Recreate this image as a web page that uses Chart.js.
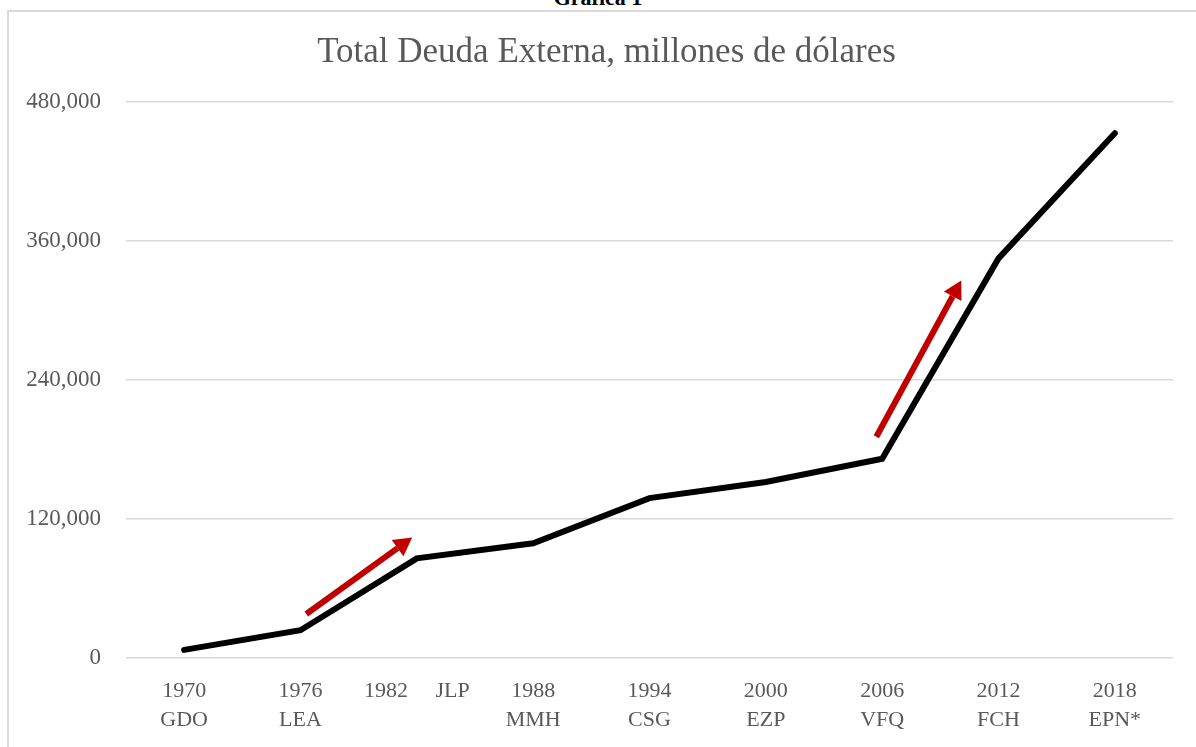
<!DOCTYPE html>
<html>
<head>
<meta charset="utf-8">
<script src="https://cdn.jsdelivr.net/npm/chart.js@4/dist/chart.umd.min.js"></script>
<style>
    html, body { margin: 0; padding: 0; background: #fff; overflow: hidden; width: 1196px; height: 747px; }
    #caption { position: absolute; left: 0; width: 1196px; top: -13px; text-align: center;
        font: bold 22px "Liberation Serif", serif; line-height: 22px; color: #000; }
    #frame { position: absolute; left: 7px; top: 10px; width: 1210px; height: 760px;
        border-left: 2px solid #d9d9d9; border-top: 2px solid #d9d9d9; }
    #frame canvas { position: absolute; left: 0; top: 0; }
</style>
</head>
<body>
<div id="caption">Gráfica 1</div>
<div id="frame"><canvas id="deuda" width="1195" height="735"></canvas></div>
<script>
// años y presidentes
const years = ['1970', '1976', '1982     JLP', '1988', '1994', '2000', '2006', '2012', '2018'];
const presidents = ['GDO', 'LEA', '', 'MMH', 'CSG', 'EZP', 'VFQ', 'FCH', 'EPN*'];
// deuda externa total, millones de dólares
const debt = [7000, 24000, 86000, 99000, 138000, 152000, 172000, 345000, 453000];
const yTicks = [0, 120000, 240000, 360000, 480000];

// red arrows, in data units: [category index, value]
const arrows = [
    { from: [1.05, 38000], to: [1.96, 104000] },
    { from: [5.95, 191000], to: [6.68, 326000] }
];

const labels = years.map((y, i) => presidents[i] ? [y, presidents[i]] : y);
const serif = '"Liberation Serif", "Times New Roman", serif';

const arrowPlugin = {
    id: 'arrows',
    afterDatasetsDraw(chart) {
        const { ctx, scales: { x, y } } = chart;
        ctx.save();
        ctx.strokeStyle = '#c00000';
        ctx.fillStyle = '#c00000';
        ctx.lineWidth = 6;
        arrows.forEach(a => {
            const x0 = x.getPixelForValue(a.from[0]), y0 = y.getPixelForValue(a.from[1]);
            const x1 = x.getPixelForValue(a.to[0]), y1 = y.getPixelForValue(a.to[1]);
            const ang = Math.atan2(y1 - y0, x1 - x0);
            const head = 18, half = 10;
            const bx = x1 - head * Math.cos(ang), by = y1 - head * Math.sin(ang);
            ctx.beginPath();
            ctx.moveTo(x0, y0);
            ctx.lineTo(bx, by);
            ctx.stroke();
            ctx.beginPath();
            ctx.moveTo(x1, y1);
            ctx.lineTo(bx + half * Math.sin(ang), by - half * Math.cos(ang));
            ctx.lineTo(bx - half * Math.sin(ang), by + half * Math.cos(ang));
            ctx.closePath();
            ctx.fill();
        });
        ctx.restore();
    }
};

new Chart(document.getElementById('deuda'), {
    type: 'line',
    data: {
        labels: labels,
        datasets: [{
            data: debt,
            borderColor: '#000',
            borderWidth: 6,
            borderCapStyle: 'round',
            pointRadius: 0,
            tension: 0,
            fill: false
        }]
    },
    options: {
        responsive: false,
        animation: false,
        layout: { padding: 0 },
        plugins: {
            legend: { display: false },
            tooltip: { enabled: false },
            title: {
                display: true,
                text: 'Total Deuda Externa, millones de dólares',
                color: '#595959',
                font: { family: serif, size: 35, weight: 'normal' },
                padding: { top: 20, bottom: 28 }
            }
        },
        scales: {
            x: {
                offset: true,
                grid: { display: false },
                border: { display: false },
                ticks: {
                    color: '#595959',
                    font: { family: serif, size: 22, lineHeight: 1.3 },
                    padding: 11,
                    maxRotation: 0,
                    autoSkip: false
                },
                afterFit(scale) { scale.height = 89; }
            },
            y: {
                min: 0,
                max: 480000,
                afterBuildTicks(scale) { scale.ticks = yTicks.map(v => ({ value: v })); },
                grid: { color: '#d9d9d9', lineWidth: 1.5, drawTicks: false },
                border: { display: false },
                ticks: {
                    color: '#595959',
                    font: { family: serif, size: 23 },
                    padding: 25,
                    callback: v => v.toLocaleString('en-US')
                },
                afterFit(scale) { scale.width = 117; }
            },
            // empty right margin, keeps the title centred on the whole frame
            yRight: {
                position: 'right',
                grid: { display: false },
                border: { display: false },
                ticks: { display: false },
                afterFit(scale) { scale.width = 31; }
            }
        }
    },
    plugins: [arrowPlugin]
});
</script>
</body>
</html>
